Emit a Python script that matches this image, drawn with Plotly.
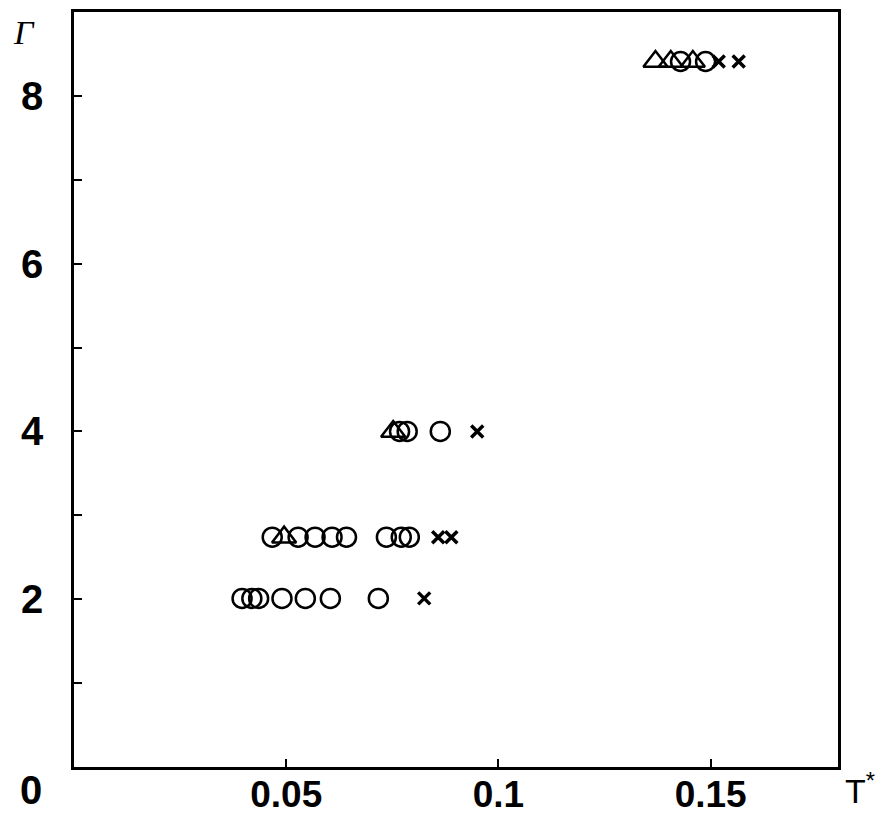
import plotly.graph_objects as go

# Circles
circ_T = [0.0396, 0.0419, 0.0435, 0.0490, 0.0545, 0.0604, 0.0717,
          0.0467, 0.0528, 0.0568, 0.0608, 0.0642, 0.0736, 0.0771, 0.0790,
          0.0767, 0.0785, 0.0863,
          0.1429, 0.1488]
circ_G = [2.01] * 7 + [2.74] * 8 + [4.0] * 3 + [8.41] * 2

# Triangles
tri_T = [0.0495, 0.0752, 0.1370, 0.1406, 0.1458]
tri_G = [2.74, 4.0, 8.41, 8.41, 8.41]

# Crosses
x_T = [0.0825, 0.0858, 0.0889, 0.0950, 0.1519, 0.1566]
x_G = [2.01, 2.74, 2.74, 4.0, 8.41, 8.41]

x_tickvals = [0.05, 0.1, 0.15]
x_ticktext = ["0.05", "0.1", "0.15"]
y_tickvals = [2, 4, 6, 8]
y_ticktext = ["2", "4", "6", "8"]
y_minor_tickvals = [1, 3, 5, 7]

fig = go.Figure()
fig.add_trace(go.Scatter(x=circ_T, y=circ_G, mode="markers",
                         marker=dict(symbol="circle-open", size=19, color="black",
                                     line=dict(width=2.5, color="black"))))
fig.add_trace(go.Scatter(x=tri_T, y=tri_G, mode="markers",
                         marker=dict(symbol="triangle-up-open", size=21, color="black",
                                     line=dict(width=2.5, color="black"))))
fig.add_trace(go.Scatter(x=x_T, y=x_G, mode="markers",
                         marker=dict(symbol="x-thin-open", size=12, color="black",
                                     line=dict(width=3.5, color="black"))))

tickfont = dict(family="Liberation Sans, Arial, sans-serif", size=40, color="black", weight="bold")
xtickfont = dict(family="Liberation Sans, Arial, sans-serif", size=37, color="black", weight="bold")

L, R, T, B = 74, 50, 12, 49
W, H = 888, 816
pw = W - L - R
ph = H - T - B

def px(xp):
    return (xp - L) / pw

def py(yp):
    return (H - B - yp) / ph

fig.update_layout(
    width=W, height=H,
    margin=dict(l=L, r=R, t=T, b=B, autoexpand=False),
    paper_bgcolor="white", plot_bgcolor="white",
    showlegend=False,
    xaxis=dict(range=[0, 0.18], tickvals=x_tickvals, ticktext=x_ticktext,
               showgrid=False, zeroline=False, showline=True, linewidth=2.5,
               linecolor="black", mirror=True, ticks="inside", ticklen=8,
               tickwidth=2, tickcolor="black", tickfont=xtickfont,
               automargin=False, ticklabelstandoff=-7),
    yaxis=dict(range=[0, 9], tickvals=y_tickvals, ticktext=y_ticktext,
               showgrid=False, zeroline=False, showline=True, linewidth=2.5,
               linecolor="black", mirror=True, ticks="inside", ticklen=8,
               tickwidth=2, tickcolor="black", tickfont=tickfont,
               automargin=False, ticklabelstandoff=20,
               minor=dict(tickvals=y_minor_tickvals, ticks="inside", ticklen=8,
                          tickwidth=2, tickcolor="black", showgrid=False)),
    annotations=[
        dict(text="0", x=px(31), y=py(790), xref="paper", yref="paper", showarrow=False,
             xanchor="center", yanchor="middle", font=tickfont),
        dict(text="<i>Γ</i>", x=px(24), y=py(32), xref="paper", yref="paper", showarrow=False,
             xanchor="center", yanchor="middle",
             font=dict(family="Liberation Serif, serif", size=34, color="black")),
        dict(text="T<sup>*</sup>", x=px(860), y=py(788), xref="paper", yref="paper", showarrow=False,
             xanchor="center", yanchor="middle",
             font=dict(family="Liberation Sans, Arial, sans-serif", size=34, color="black")),
    ],
)

fig.write_html("out.html")
